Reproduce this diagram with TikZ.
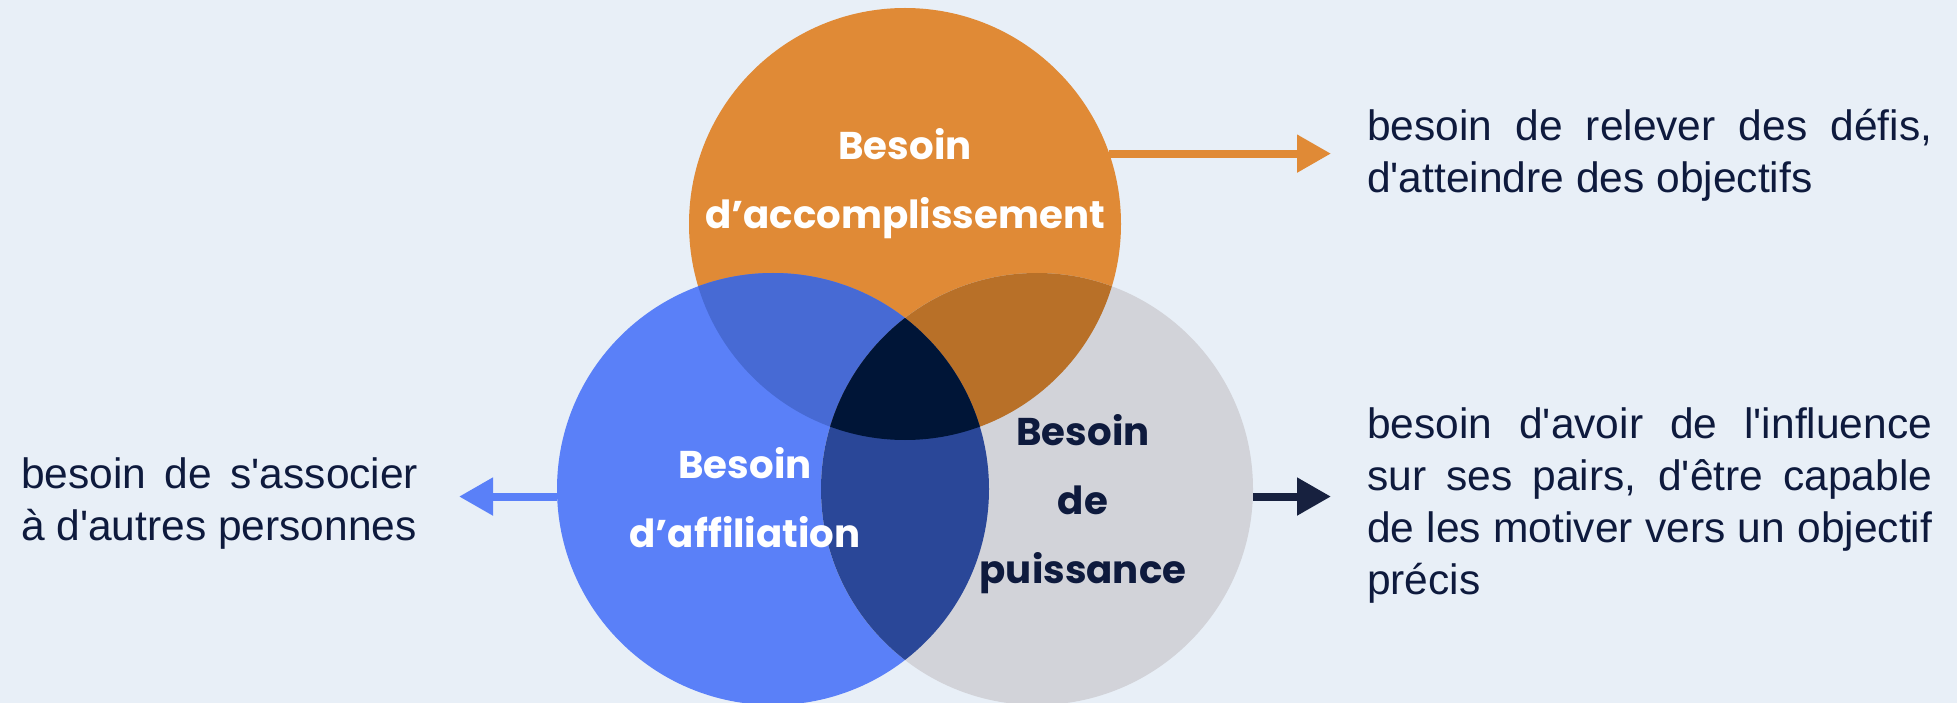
\documentclass[tikz,border=0pt]{standalone}
\usepackage{fontspec}
\usetikzlibrary{arrows.meta}
\newfontfamily\labelfont{Poppins}
\newfontfamily\sidefont{Liberation Sans}

\definecolor{bgc}{HTML}{E8EFF7}
\definecolor{corange}{HTML}{E08A36}
\definecolor{cblue}{HTML}{5A80F8}
\definecolor{cgray}{HTML}{D2D3D9}
\definecolor{cob}{HTML}{476AD4}
\definecolor{cog}{HTML}{B87028}
\definecolor{cbg}{HTML}{2A4798}
\definecolor{ccore}{HTML}{001537}
\definecolor{ink}{HTML}{0E1A3D}
\definecolor{cdark}{HTML}{17213F}

\begin{document}
\begin{tikzpicture}[x=1pt,y=-1pt,
  disc/.style={circle,inner sep=0pt,minimum size=432pt},
  lbl/.style={font=\labelfont\bfseries\fontsize{38.7}{69}\selectfont,align=center,inner sep=0pt},
  side/.style={font=\sidefont\fontsize{42.5}{52}\selectfont,text=ink,align=left,inner sep=0pt},
  arr/.style={line width=8pt,-{Triangle[length=34pt,width=36pt]}}]
\useasboundingbox (0,0) rectangle (1957,703);
\fill[bgc] (0,0) rectangle (1957,703);

% the three needs
\node[disc,fill=corange] (acc) at (905,224) {};
\node[disc,fill=cblue] (aff) at (773,489) {};
\node[disc,fill=cgray] (pui) at (1037,489) {};

% overlapping areas
\begin{scope}
  \clip (acc.center) circle (216pt);
  \fill[cob] (aff.center) circle (216pt);
  \fill[cog] (pui.center) circle (216pt);
\end{scope}
\begin{scope}
  \clip (aff.center) circle (216pt);
  \fill[cbg] (pui.center) circle (216pt);
  \clip (acc.center) circle (216pt);
  \fill[ccore] (pui.center) circle (216pt);
\end{scope}

% circle labels (anchored on the baseline of their last line)
\node[lbl,text=white,anchor=base] (tacc) at (905,229) {Besoin\\d’accomplissement};
\node[lbl,text=white,anchor=base] (taff) at (745,547) {Besoin\\d’affiliation};
\node[lbl,text=ink,anchor=base] (tpui) at (1083,583) {Besoin\\de\\puissance};

% descriptions
\node[side,anchor=base west] (dacc) at (1367,193)
  {\makebox[565pt][s]{besoin de relever des défis,}\\d'atteindre des objectifs};
\node[side,anchor=base west] (daff) at (21,540)
  {\makebox[397pt][s]{besoin de s'associer}\\à d'autres personnes};
\node[side,anchor=base west] (dpui) at (1367,594)
  {\makebox[565pt][s]{besoin d'avoir de l'influence}\\
   \makebox[565pt][s]{sur ses pairs, d'être capable}\\
   \makebox[565pt][s]{de les motiver vers un objectif}\\précis};

% connectors
\coordinate (tipacc) at (1331,154);
\coordinate (tipaff) at (459,497);
\coordinate (tippui) at (1331,498);
\draw[arr,corange] (acc.19) -- (acc.19 -| tipacc);
\draw[arr,cblue] (aff.182) -- (aff.182 -| tipaff);
\draw[arr,cdark] (pui.-2) -- (pui.-2 -| tippui);
\end{tikzpicture}
\end{document}
